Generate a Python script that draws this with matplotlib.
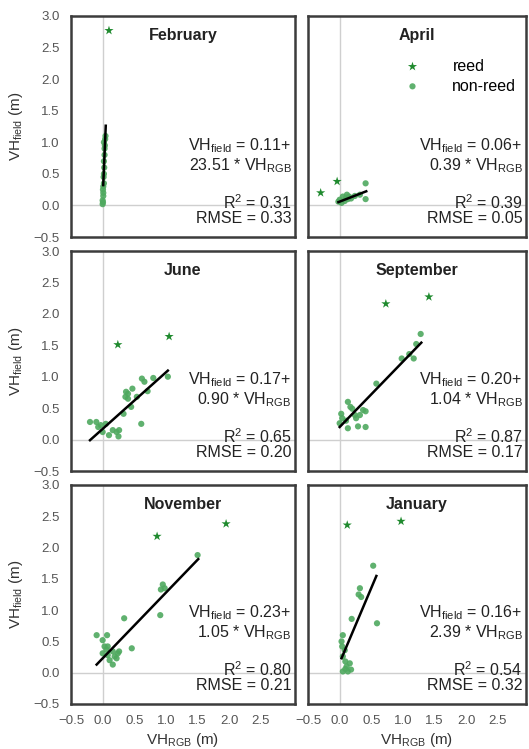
import matplotlib
matplotlib.use("Agg")
import matplotlib.pyplot as plt
import numpy as np

plt.rcParams['font.family'] = ['Liberation Sans', 'DejaVu Sans']
plt.rcParams['mathtext.default'] = 'regular'

months = ["February", "April", "June", "September", "November", "January"]

# reed points (x = VH_RGB, y = VH_field)
reed_x = {
    "February": [0.10],
    "April": [-0.30, -0.04],
    "June": [0.24, 1.05],
    "September": [0.73, 1.41],
    "November": [0.86, 1.95],
    "January": [0.12, 0.97],
}
reed_y = {
    "February": [2.77],
    "April": [0.20, 0.38],
    "June": [1.51, 1.64],
    "September": [2.16, 2.27],
    "November": [2.18, 2.38],
    "January": [2.36, 2.42],
}

# non-reed points
nonreed_x = {
    "February": [0.00, 0.005, 0.00, 0.01, 0.005, 0.01, 0.02, 0.015, 0.02, 0.025, 0.02, 0.03, 0.03, 0.035, 0.04, 0.045, 0.02, 0.01],
    "April": [0.41, 0.41, 0.115, 0.00, 0.05, 0.15, -0.02, 0.03, 0.08, 0.13, 0.24, 0.32, 0.10, 0.18],
    "June": [-0.20, -0.10, -0.03, 0.00, 0.05, 0.10, 0.16, 0.22, 0.25, 0.26, 0.33, 0.36, 0.40, 0.37,
             0.47, 0.45, 0.54, 0.61, 0.62, 0.66, 0.71, 0.80, 1.03, 0.40, -0.07],
    "September": [0.025, 0.00, 0.04, 0.13, 0.13, 0.20, 0.24, 0.26, 0.32, 0.37, 0.41, 0.29, 0.41,
                  0.58, 0.98, 1.10, 1.17, 1.21, 1.28, 0.10, 0.17],
    "November": [-0.095, 0.00, 0.07, 0.03, 0.06, 0.08, 0.11, 0.16, 0.19, 0.22, 0.24, 0.26, 0.16, 0.08,
                 0.34, 0.46, 0.91, 0.92, 0.95, 0.98, 1.50, 0.00],
    "January": [0.53, 0.32, 0.30, 0.34, 0.19, 0.59, 0.05, 0.03, 0.04, 0.08, 0.05, 0.09, 0.11, 0.16,
                0.18, 0.05, 0.13, 0.09],
}
nonreed_y = {
    "February": [0.02, 0.05, 0.08, 0.20, 0.25, 0.30, 0.35, 0.45, 0.50, 0.60, 0.70, 0.80, 0.90, 0.95, 1.05, 1.10, 1.00, 0.15],
    "April": [0.35, 0.10, 0.17, 0.09, 0.14, 0.14, 0.06, 0.04, 0.07, 0.10, 0.15, 0.17, 0.12, 0.11],
    "June": [0.28, 0.28, 0.23, 0.12, 0.25, 0.07, 0.15, 0.12, 0.05, 0.15, 0.41, 0.68, 0.73, 0.76,
             0.81, 0.52, 0.68, 0.25, 0.97, 0.92, 0.77, 0.98, 1.00, 0.65, 0.20],
    "September": [0.41, 0.26, 0.34, 0.60, 0.18, 0.49, 0.39, 0.34, 0.39, 0.47, 0.45, 0.21, 0.20,
                  0.89, 1.29, 1.36, 1.29, 1.52, 1.68, 0.30, 0.52],
    "November": [0.60, 0.52, 0.60, 0.42, 0.37, 0.28, 0.20, 0.13, 0.26, 0.23, 0.31, 0.34, 0.34, 0.42,
                 0.87, 0.39, 0.92, 1.33, 1.41, 1.35, 1.88, 0.31],
    "January": [1.71, 1.35, 1.25, 1.21, 0.86, 0.79, 0.60, 0.50, 0.42, 0.36, 0.26, 0.18, 0.10, 0.15,
                0.05, 0.02, 0.02, 0.06],
}

intercepts = {"February": 0.11, "April": 0.06, "June": 0.17, "September": 0.20, "November": 0.23, "January": 0.16}
slopes = {"February": 23.51, "April": 0.39, "June": 0.90, "September": 1.04, "November": 1.05, "January": 2.39}
fit_range = {"February": (0.009, 0.049), "April": (-0.02, 0.42), "June": (-0.20, 1.03),
             "September": (0.00, 1.29), "November": (-0.095, 1.51), "January": (0.03, 0.58)}
r2 = {"February": 0.31, "April": 0.39, "June": 0.65, "September": 0.87, "November": 0.80, "January": 0.54}
rmse = {"February": 0.33, "April": 0.05, "June": 0.20, "September": 0.17, "November": 0.21, "January": 0.32}

tick_vals = [-0.5, 0.0, 0.5, 1.0, 1.5, 2.0, 2.5, 3.0]
xtick_vals = [-0.5, 0.0, 0.5, 1.0, 1.5, 2.0, 2.5]


def fmt(v):
    return ("%.1f" % v).replace("-", "\u2212")


W, H = 529, 749
fig = plt.figure(figsize=(W / 100, H / 100), dpi=100)

col_px = [(71, 295), (308, 526)]
row_px = [(16, 237), (251, 471), (485, 704)]

reed_color = "#1f8a2e"
nonreed_color = "#4fa95f"
spine_color = "#3c3c3c"
tick_color = "#555555"
px_per_unit = 63.3

for i, m in enumerate(months):
    r, c = divmod(i, 2)
    x0, x1 = col_px[c]
    y0, y1 = row_px[r]
    ax = fig.add_axes([x0 / W, 1 - y1 / H, (x1 - x0) / W, (y1 - y0) / H])
    ax.set_xlim(-0.5, -0.5 + (x1 - x0) / px_per_unit)
    ax.set_ylim(-0.5, 3.0)
    ax.axhline(0, color="#cfcfcf", lw=1.0, zorder=0)
    ax.axvline(0, color="#cfcfcf", lw=1.0, zorder=0)

    ax.scatter(nonreed_x[m], nonreed_y[m], s=20, color=nonreed_color, alpha=0.9,
               edgecolors="none", zorder=2, label="non-reed")
    ax.scatter(reed_x[m], reed_y[m], s=48, marker="*", color=reed_color,
               edgecolors="none", zorder=3, label="reed")
    xa, xb = fit_range[m]
    xs = np.array([xa, xb])
    ax.plot(xs, intercepts[m] + slopes[m] * xs, color="black", lw=1.8, zorder=4)

    ax.text(0.5, 0.91, m, transform=ax.transAxes, ha="center", va="center",
            fontsize=11.5, fontweight="bold", color="#222222")
    tx = 0.985
    ax.text(tx, 0.415, "VH$_{field}$ = %.2f+" % intercepts[m], transform=ax.transAxes,
            ha="right", va="center", fontsize=11.5, color="#222222")
    ax.text(tx, 0.325, "%.2f * VH$_{RGB}$" % slopes[m], transform=ax.transAxes,
            ha="right", va="center", fontsize=11.5, color="#222222")
    ax.text(tx, 0.155, "R$^{2}$ = %.2f" % r2[m], transform=ax.transAxes,
            ha="right", va="center", fontsize=11.5, color="#222222")
    ax.text(tx, 0.085, "RMSE = %.2f" % rmse[m], transform=ax.transAxes,
            ha="right", va="center", fontsize=11.5, color="#222222")

    ax.set_yticks(tick_vals)
    ax.set_xticks(xtick_vals)
    ax.tick_params(length=0, labelsize=9.5, labelcolor=tick_color, pad=8)
    if c == 0:
        ax.set_yticklabels([fmt(v) for v in tick_vals])
        ax.set_ylabel("VH$_{field}$ (m)", fontsize=11, color="#333333", labelpad=6)
    else:
        ax.set_yticklabels([])
    if r == 2:
        ax.set_xticklabels([fmt(v) for v in xtick_vals])
        ax.set_xlabel("VH$_{RGB}$ (m)", fontsize=11, color="#333333", labelpad=3)
    else:
        ax.set_xticklabels([])
    for s in ax.spines.values():
        s.set_color(spine_color)
        s.set_linewidth(1.8)

    if m == "April":
        handles, labels = ax.get_legend_handles_labels()
        ax.legend(handles[::-1], labels[::-1], loc="upper right", bbox_to_anchor=(1.0, 0.85),
                  frameon=False, fontsize=11.5, handletextpad=1.5, labelspacing=0.3,
                  borderaxespad=0.2)

fig.savefig("out.png", dpi=100)
